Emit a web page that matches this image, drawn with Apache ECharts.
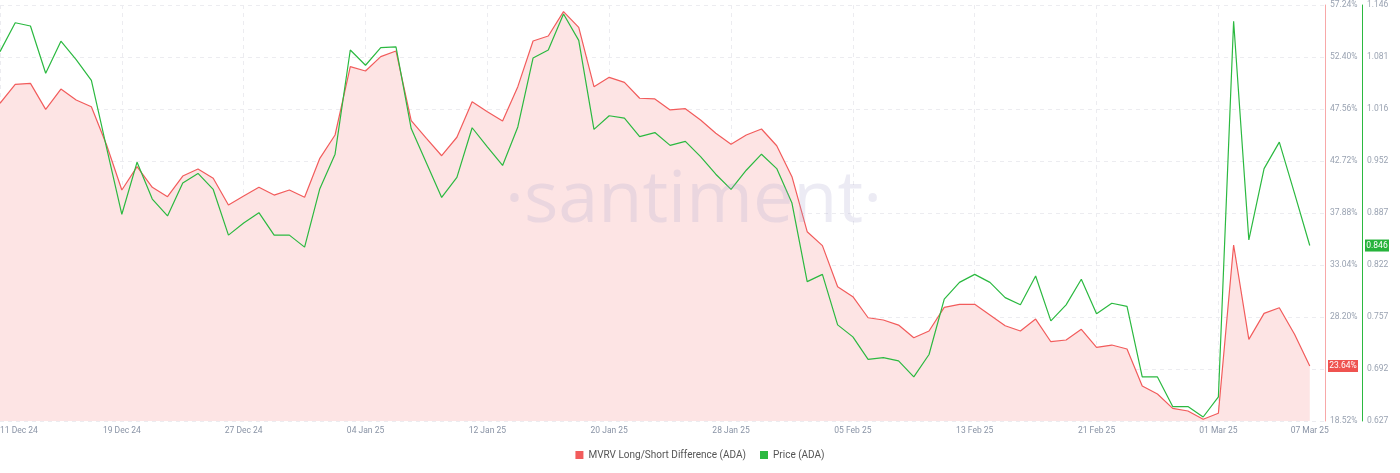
<!DOCTYPE html>
<html><head><meta charset="utf-8">
<script src="https://cdn.jsdelivr.net/npm/echarts@6/dist/echarts.min.js"></script>
<style>html,body{margin:0;padding:0;background:#fff}#c{width:1400px;height:473px}</style>
</head><body><div id="c"></div>
<script>
const startDate = '2024-12-11';
const dayCount = 88; // last category (08 Mar) is empty padding
const mvrv = [48.09,49.86,49.95,47.53,49.42,48.40,47.77,44.21,40.02,42.19,40.27,39.40,41.32,41.97,41.11,38.62,39.46,40.27,39.55,40.02,39.34,42.97,45.14,51.50,51.10,52.43,52.96,46.47,44.83,43.21,44.93,48.24,47.31,46.44,49.64,53.89,54.35,56.62,55.16,49.64,50.51,50.04,48.56,48.50,47.47,47.59,46.54,45.30,44.27,45.14,45.70,44.14,41.26,36.14,34.84,31.02,30.09,28.13,27.92,27.45,26.27,26.90,29.10,29.38,29.38,28.39,27.39,26.90,28.01,25.90,26.06,27.05,25.38,25.59,25.22,21.78,21.03,19.70,19.45,18.68,19.24,34.90,26.12,28.54,29.06,26.59,23.64];
const price = [1.088,1.124,1.120,1.061,1.101,1.078,1.052,0.968,0.885,0.950,0.904,0.883,0.924,0.936,0.916,0.859,0.874,0.887,0.859,0.859,0.844,0.917,0.960,1.090,1.071,1.093,1.094,0.992,0.949,0.906,0.931,0.993,0.969,0.946,0.994,1.080,1.090,1.135,1.102,0.991,1.008,1.005,0.982,0.987,0.971,0.976,0.957,0.935,0.916,0.940,0.960,0.942,0.899,0.801,0.810,0.747,0.732,0.704,0.706,0.702,0.682,0.710,0.779,0.800,0.810,0.800,0.781,0.772,0.808,0.752,0.772,0.804,0.761,0.774,0.770,0.682,0.682,0.645,0.645,0.632,0.657,1.126,0.853,0.942,0.975,0.911,0.846];
const mvrvAxis = {min:18.52, max:57.24, interval:4.84};
const priceAxis = {min:0.627, max:1.1462, interval:0.0649};

const months=['Jan','Feb','Mar','Apr','May','Jun','Jul','Aug','Sep','Oct','Nov','Dec'];
const cats=[];
const d0=new Date(startDate+'T00:00:00Z');
for(let i=0;i<dayCount;i++){const d=new Date(d0.getTime()+i*86400000);
 cats.push(String(d.getUTCDate()).padStart(2,'0')+' '+months[d.getUTCMonth()]+' '+String(d.getUTCFullYear()).slice(2));}

const RED='#f25c5c', GREEN='#2bb940';
const chart=echarts.init(document.getElementById('c'));
const gridDash={show:true,lineStyle:{color:'#ececf0',type:[4,4],width:1}};
chart.setOption({
 animation:false,
 grid:{left:0,right:75,top:5,bottom:52,containLabel:false,outerBoundsMode:'none'},
 legend:{bottom:8,left:'center',itemWidth:8,itemHeight:8,itemGap:14,icon:'rect',
   textStyle:{fontSize:10,color:'#555',fontFamily:'Roboto'},
   data:['MVRV Long/Short Difference (ADA)','Price (ADA)']},
 xAxis:{type:'category',data:cats,boundaryGap:false,
   axisLine:{show:false},axisTick:{show:false},
   splitLine:Object.assign({},gridDash,{interval:(i)=>i%8===0}),
   axisLabel:{interval:(i)=>i%8===0||i===86,color:'#8a94a6',fontSize:8.5,fontFamily:'Roboto',margin:5,
     showMinLabel:true,alignMinLabel:'left'}},
 yAxis:[
  {type:'value',position:'right',min:mvrvAxis.min,max:mvrvAxis.max,interval:mvrvAxis.interval,
   axisLine:{show:true,lineStyle:{color:'#f7a8a8'}},axisTick:{show:false},
   splitLine:gridDash,
   axisLabel:{color:'#9aa3b2',fontSize:8.5,fontFamily:'Roboto',margin:5,formatter:v=>v.toFixed(2)+'%'}},
  {type:'value',position:'right',offset:37,min:priceAxis.min,max:priceAxis.max,interval:priceAxis.interval,
   axisLine:{show:true,lineStyle:{color:GREEN}},axisTick:{show:false},splitLine:{show:false},
   axisLabel:{color:'#9aa3b2',fontSize:8.5,fontFamily:'Roboto',margin:5,formatter:v=>v.toFixed(3)}}
 ],
 series:[
  {name:'MVRV Long/Short Difference (ADA)',type:'line',yAxisIndex:0,data:mvrv,showSymbol:false,
   lineStyle:{color:RED,width:1.2},itemStyle:{color:RED},areaStyle:{color:'#fde4e4',opacity:1,origin:'start'}},
  {name:'Price (ADA)',type:'line',yAxisIndex:1,data:price,showSymbol:false,
   lineStyle:{color:GREEN,width:1.2},itemStyle:{color:GREEN},z:3}
 ]
});
const yR=chart.convertToPixel({yAxisIndex:0},mvrv[mvrv.length-1]);
const yG=chart.convertToPixel({yAxisIndex:1},price[price.length-1]);
chart.setOption({graphic:[
 {type:'text',x:505,y:165,z:100,silent:true,style:{text:'·santiment·',fontSize:72,fontFamily:'Open Sans',fill:'rgba(170,165,205,0.22)'}},
 {type:'rect',shape:{x:1328,y:yR-6,width:30,height:12},style:{fill:'#ef5350'},z:10},
 {type:'text',x:1343,y:yR,style:{text:mvrv[mvrv.length-1].toFixed(2)+'%',fill:'#fff',fontSize:8.5,fontFamily:'Roboto',align:'center',verticalAlign:'middle'},z:11},
 {type:'rect',shape:{x:1365,y:yG-6,width:24,height:12},style:{fill:'#26b33b'},z:10},
 {type:'text',x:1377,y:yG,style:{text:price[price.length-1].toFixed(3),fill:'#fff',fontSize:8.5,fontFamily:'Roboto',align:'center',verticalAlign:'middle'},z:11}
]});
</script></body></html>
